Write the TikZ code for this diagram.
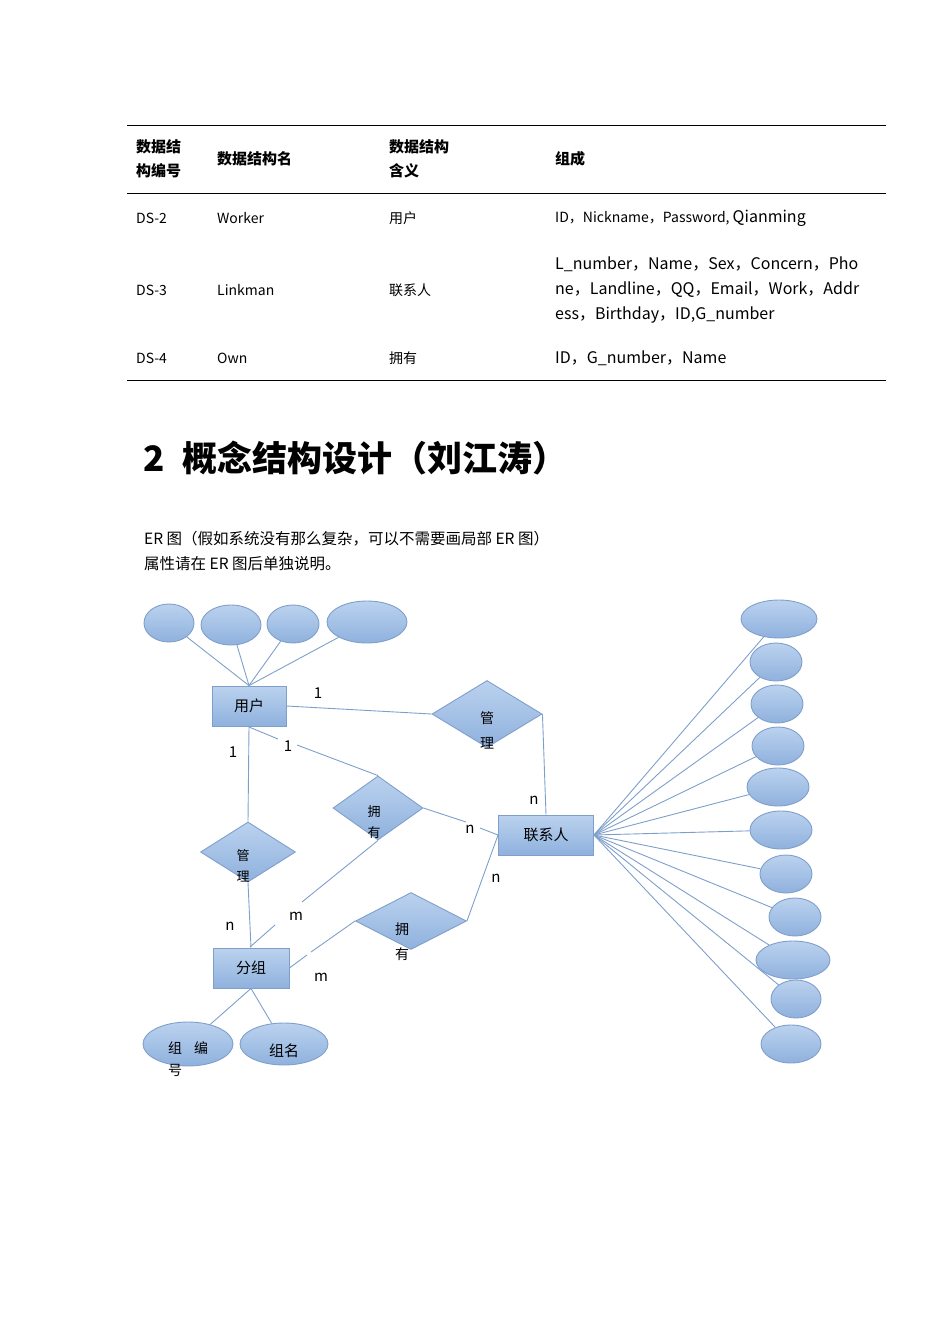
\documentclass[tikz,border=0pt]{standalone}
\usepackage{fontspec}
\setmainfont{Noto Sans CJK SC}
\usetikzlibrary{shapes.geometric}
\definecolor{ln}{HTML}{7F9FCB}
\definecolor{ftop}{HTML}{BBD2EF}
\definecolor{fbot}{HTML}{8FB1DD}
\tikzset{
 er/.style={draw=ln,line width=0.9pt,top color=ftop,bottom color=fbot,inner sep=0pt},
 ell/.style={er,ellipse},
 ent/.style={er,rectangle,minimum width=74pt,minimum height=40pt,font=\fontsize{15}{18}\selectfont},
 rel/.style={er,diamond,aspect=1.6},
 lk/.style={ln,line width=0.9pt},
 t/.style={font=\fontsize{14}{17}\selectfont,anchor=west,inner sep=0pt},
 th/.style={font=\fontsize{15}{24}\selectfont\bfseries,anchor=west,align=left,inner sep=0pt},
 lab/.style={font=\fontsize{15}{18}\selectfont,inner sep=0pt},
}
\begin{document}
\begin{tikzpicture}[x=1pt,y=-1pt]
\useasboundingbox (0,0) rectangle (950,1344);
% table
\draw[line width=0.8pt] (127,125) -- (886,125);
\draw[line width=0.8pt] (127,193) -- (886,193);
\draw[line width=0.8pt] (127,380) -- (886,380);
\node[th] (h1) at (136,159) {数据结\\构编号};
\node[th] (h2) at (217,159) {数据结构名};
\node[th] (h3) at (389,159) {数据结构\\含义};
\node[th] (h4) at (555,159) {组成};
\node[t] (a1) at (136,218) {DS-2};
\node[t] (a2) at (217,218) {Worker};
\node[t] (a3) at (389,218) {用户};
\node[t] (a4) at (555,218) {ID，Nickname，Password, {\fontsize{16}{18}\selectfont Qianming}};
\node[t] (b1) at (136,290) {DS-3};
\node[t] (b2) at (217,290) {Linkman};
\node[t] (b3) at (389,290) {联系人};
\node[t,font=\fontsize{16}{25}\selectfont,align=left] (b4) at (555,290) {L\_number，Name，Sex，Concern，Pho\\ne，Landline，QQ，Email，Work，Addr\\ess，Birthday，ID,G\_number};
\node[t] (c1) at (136,358) {DS-4};
\node[t] (c2) at (217,358) {Own};
\node[t] (c3) at (389,358) {拥有};
\node[t,font=\fontsize{16}{18}\selectfont] (c4) at (555,358) {ID，G\_number，Name};
% heading
\node[anchor=west,inner sep=0pt,font=\fontsize{35}{40}\selectfont\bfseries] (hd) at (143,458) {2\hspace{18pt}概念结构设计（刘江涛）};
\node[anchor=west,inner sep=0pt,font=\fontsize{15.5}{25}\selectfont,align=left] (p) at (144,551) {ER 图（假如系统没有那么复杂，可以不需要画局部 ER 图）\\属性请在 ER 图后单独说明。};
% ER
\node[ent] (u) at (249,706) {用户};
\node[ent,minimum width=95pt] (l) at (546,835) {联系人};
\node[ent,minimum width=76pt] (g) at (251,968) {分组};
\node[rel,minimum width=110pt,minimum height=67pt] (m1) at (487,714) {};
\node[lab,font=\fontsize{14}{25}\selectfont,align=center] (m1t) at (487,730) {管\\理};
\node[rel,minimum width=90pt,minimum height=64pt] (o1) at (378,808) {};
\node[lab,font=\fontsize{13}{21}\selectfont,align=center] (o1t) at (374,822) {拥\\有};
\node[rel,minimum width=95pt,minimum height=60pt] (m2) at (248,852) {};
\node[lab,font=\fontsize{13}{21}\selectfont,align=center] (m2t) at (243,866) {管\\理};
\node[rel,minimum width=111pt,minimum height=57pt] (o2) at (411,921) {};
\node[lab,font=\fontsize{14}{25}\selectfont,align=center] (o2t) at (402,942) {拥\\有};
% top ellipses
\node[ell,minimum width=50pt,minimum height=38pt] (e1) at (169,623) {};
\node[ell,minimum width=60pt,minimum height=40pt] (e2) at (231,625) {};
\node[ell,minimum width=52pt,minimum height=38pt] (e3) at (293,624) {};
\node[ell,minimum width=80pt,minimum height=42pt] (e4) at (367,622) {};
\foreach \e in {e1,e2,e3,e4} \draw[lk] (\e) -- (u.north);
% bottom ellipses
\node[ell,minimum width=90pt,minimum height=44pt] (f1) at (188,1044) {};
\node[lab,font=\fontsize{14}{22}\selectfont] (f1t) at (188,1048) {组\hspace{12pt}编};
\node[lab,font=\fontsize{14}{22}\selectfont] (f1u) at (175,1070) {号};
\node[ell,minimum width=88pt,minimum height=42pt] (f2) at (284,1044) {};
\node[lab] (f2t) at (284,1051) {组名};
\draw[lk] (g.south) -- (f1);
\draw[lk] (g.south) -- (f2);
% right ellipses
\foreach \n/\x/\y/\w in {r1/779/619/76,r2/776/662/52,r3/777/704/52,r4/778/746/52,r5/778/787/62,r6/781/830/62,r7/786/874/52,r8/795/917/52,r9/793/960/74,r10/796/999/50,r11/791/1044/60}{
  \node[ell,minimum width=\w pt,minimum height=38pt] (\n) at (\x,\y) {};
  \draw[lk] (l.east) -- (\n);
}
% relationships
\draw[lk] (u.east) -- (m1.west);
\node[lab] (n1) at (318,693) {1};
\draw[lk] (m1.east) -- (l.north);
\node[lab] (n2) at (534,800) {n};
\coordinate (ua) at (278,739);
\coordinate (ub) at (297,745);
\draw[lk] (249,727) -- (ua);
\draw[lk] (ub) -- (o1.north);
\node[lab] (n3) at (288,746) {1};
\coordinate (oa) at (466,822);
\coordinate (ob) at (480,828);
\draw[lk] (o1.east) -- (oa);
\draw[lk] (ob) -- (l.west);
\node[lab] (n4) at (470,829) {n};
\coordinate (oc) at (302,902);
\coordinate (od) at (275,925);
\draw[lk] (o1.south) -- (oc);
\draw[lk] (od) -- (250,947);
\node[lab] (n5) at (296,916) {m};
\draw[lk] (u.south) -- (m2.north);
\node[lab] (n6) at (233,752) {1};
\draw[lk] (m2.south) -- (g.north);
\node[lab] (n7) at (230,926) {n};
\coordinate (ga) at (307,955);
\coordinate (gb) at (311,952);
\draw[lk] (g.east) -- (ga);
\draw[lk] (gb) -- (o2.west);
\node[lab] (n8) at (321,977) {m};
\draw[lk] (o2.east) -- (l.west);
\node[lab] (n9) at (496,878) {n};
\end{tikzpicture}
\end{document}
